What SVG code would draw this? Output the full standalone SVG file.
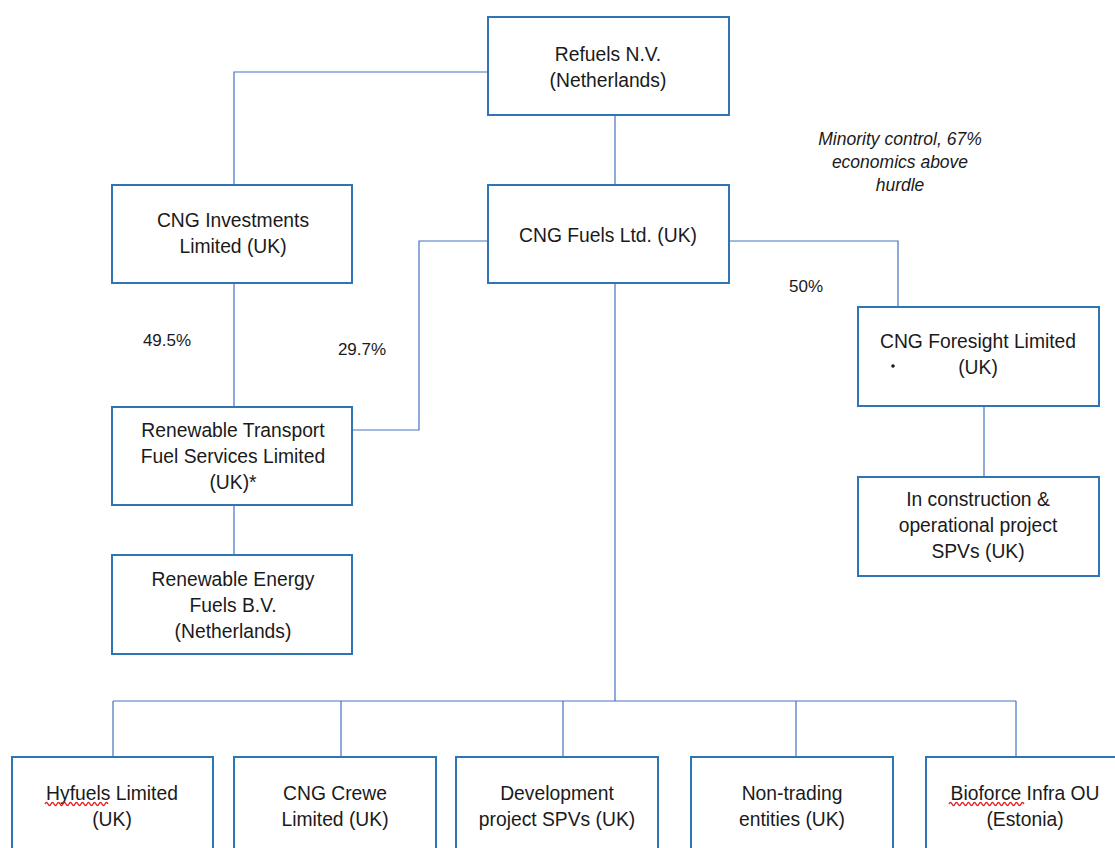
<svg xmlns="http://www.w3.org/2000/svg" width="1115" height="848" viewBox="0 0 1115 848">
<style>
.box{fill:#fff;stroke:#2e75b6;stroke-width:2}
.t{font-family:"Liberation Sans",Arial,sans-serif;font-size:19.3px;fill:#1a1a1a;text-anchor:middle}
.p{font-family:"Liberation Sans",Arial,sans-serif;font-size:17px;fill:#1a1a1a;text-anchor:middle}
.it{font-family:"Liberation Sans",Arial,sans-serif;font-size:17.5px;font-style:italic;fill:#1a1a1a;text-anchor:middle}
.c{fill:none;stroke:#4472c4;stroke-width:1.2}
.sq{fill:none;stroke:#e02020;stroke-width:1.3}
</style>
<rect width="1115" height="848" fill="#fff"/>
<g id="connectors">
<path class="c" d="M488 72 H234 V185"/>
<path class="c" d="M615 115 V185"/>
<path class="c" d="M488 241 H419 V430 H352"/>
<path class="c" d="M729 241 H898 V307"/>
<path class="c" d="M234 283 V407"/>
<path class="c" d="M234 505 V555"/>
<path class="c" d="M984 406 V477"/>
<path class="c" d="M615 283 V701"/>
<path class="c" d="M113 701 H1016"/>
<path class="c" d="M113 701 V757 M341 701 V757 M563 701 V757 M796 701 V757 M1016 701 V757"/>
</g>
<g id="refuels"><rect class="box" x="488" y="17" width="241" height="98"/>
<text class="t" x="608" y="61">Refuels N.V.</text><text class="t" x="608" y="87">(Netherlands)</text></g>
<g id="cng-fuels"><rect class="box" x="488" y="185" width="241" height="98"/>
<text class="t" x="608" y="242">CNG Fuels Ltd. (UK)</text></g>
<g id="cng-investments"><rect class="box" x="112" y="185" width="240" height="98"/>
<text class="t" x="233" y="227">CNG Investments</text><text class="t" x="233" y="253">Limited (UK)</text></g>
<g id="rtfs"><rect class="box" x="112" y="407" width="240" height="98"/>
<text class="t" x="233" y="437">Renewable Transport</text><text class="t" x="233" y="463">Fuel Services Limited</text><text class="t" x="233" y="489">(UK)*</text></g>
<g id="ref-bv"><rect class="box" x="112" y="555" width="240" height="99"/>
<text class="t" x="233" y="586">Renewable Energy</text><text class="t" x="233" y="612">Fuels B.V.</text><text class="t" x="233" y="638">(Netherlands)</text></g>
<g id="cng-foresight"><rect class="box" x="858" y="307" width="241" height="99"/>
<text class="t" x="978" y="348">CNG Foresight Limited</text><text class="t" x="978" y="374">(UK)</text>
<circle cx="893" cy="366" r="1.8" fill="#1a1a1a"/></g>
<g id="in-construction"><rect class="box" x="858" y="477" width="241" height="99"/>
<text class="t" x="978" y="506">In construction &amp;</text><text class="t" x="978" y="532">operational project</text><text class="t" x="978" y="558">SPVs (UK)</text></g>
<g id="hyfuels"><rect class="box" x="12" y="757" width="201" height="110"/>
<text class="t" x="112" y="800">Hyfuels Limited</text><text class="t" x="112" y="826">(UK)</text>
<path class="sq" d="M45 804 q1.5 -3 3 0 t3 0 t3 0 t3 0 t3 0 t3 0 t3 0 t3 0 t3 0 t3 0 t3 0 t3 0 t3 0 t3 0 t3 0 t3 0 t3 0 t3 0 t3 0 t3 0 t3 0"/></g>
<g id="cng-crewe"><rect class="box" x="234" y="757" width="202" height="110"/>
<text class="t" x="335" y="800">CNG Crewe</text><text class="t" x="335" y="826">Limited (UK)</text></g>
<g id="development"><rect class="box" x="456" y="757" width="202" height="110"/>
<text class="t" x="557" y="800">Development</text><text class="t" x="557" y="826">project SPVs (UK)</text></g>
<g id="non-trading"><rect class="box" x="691" y="757" width="202" height="110"/>
<text class="t" x="792" y="800">Non-trading</text><text class="t" x="792" y="826">entities (UK)</text></g>
<g id="bioforce"><rect class="box" x="926" y="757" width="201" height="110"/>
<text class="t" x="1025" y="800">Bioforce Infra OU</text><text class="t" x="1025" y="826">(Estonia)</text>
<path class="sq" d="M949 804 q1.5 -3 3 0 t3 0 t3 0 t3 0 t3 0 t3 0 t3 0 t3 0 t3 0 t3 0 t3 0 t3 0 t3 0 t3 0 t3 0 t3 0 t3 0 t3 0 t3 0 t3 0 t3 0 t3 0 t3 0 t3 0 t3 0"/></g>
<g id="labels">
<text class="p" x="167" y="346">49.5%</text>
<text class="p" x="362" y="355">29.7%</text>
<text class="p" x="806" y="292">50%</text>
<text class="it" x="900" y="145">Minority control, 67%</text>
<text class="it" x="900" y="168">economics above</text>
<text class="it" x="900" y="191">hurdle</text>
</g>
</svg>
